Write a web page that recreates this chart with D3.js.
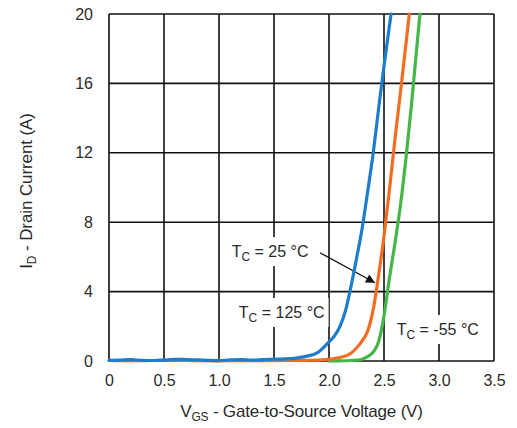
<!DOCTYPE html>
<html>
<head>
<meta charset="utf-8">
<script src="https://cdn.jsdelivr.net/npm/d3@7"></script>
<style>
  html, body { margin: 0; padding: 0; background: #fff; }
  svg { display: block; font-family: "Liberation Sans", Arial, sans-serif; }
</style>
</head>
<body>
<svg id="chart" width="517" height="428"></svg>
<script>
// ---- Data ----
const xTicks = [0, 0.5, 1.0, 1.5, 2.0, 2.5, 3.0, 3.5];
const xTickLabels = ["0", "0.5", "1.0", "1.5", "2.0", "2.5", "3.0", "3.5"];
const yTicks = [0, 4, 8, 12, 16, 20];
const yTickLabels = ["0", "4", "8", "12", "16", "20"];

// T_C = 125 °C (blue)
const vgs125 = [0, 0.1, 0.2, 0.3, 0.4, 0.5, 0.6, 0.7, 0.8, 0.9, 1.0, 1.1, 1.2, 1.3, 1.4, 1.5, 1.6, 1.7, 1.8, 1.9, 2.0, 2.05, 2.1, 2.15, 2.2, 2.25, 2.3, 2.35, 2.4, 2.45, 2.5, 2.564];
const id125  = [0.03, 0.05, 0.08, 0.04, 0.03, 0.05, 0.1, 0.08, 0.06, 0.04, 0.02, 0.06, 0.08, 0.05, 0.08, 0.1, 0.12, 0.17, 0.28, 0.5, 1.1, 1.45, 2.0, 2.9, 4.3, 5.9, 7.6, 9.7, 11.9, 14.5, 17.0, 20];

// T_C = 25 °C (orange)
const vgs25 = [0, 0.2, 0.4, 0.6, 0.8, 1.0, 1.2, 1.4, 1.6, 1.8, 1.9, 2.0, 2.1, 2.2, 2.25, 2.3, 2.35, 2.4, 2.45, 2.5, 2.55, 2.6, 2.65, 2.7, 2.73];
const id25  = [0.04, 0.02, 0.03, 0.05, 0.02, 0.01, 0.02, 0.02, 0.03, 0.04, 0.05, 0.1, 0.2, 0.45, 0.75, 1.15, 1.7, 2.9, 4.9, 7.2, 9.9, 12.8, 15.5, 18.3, 20];

// T_C = -55 °C (green)
const vgsM55 = [2.0, 2.1, 2.2, 2.3, 2.35, 2.4, 2.45, 2.5, 2.55, 2.6, 2.65, 2.7, 2.75, 2.8, 2.827];
const idM55  = [0.0, 0.01, 0.03, 0.1, 0.25, 0.5, 1.1, 2.6, 4.8, 6.8, 9.0, 11.7, 14.8, 18.2, 20];

const series = [
  { name: "125", v: vgs125, i: id125, color: "#1b7dcc" },
  { name: "25",  v: vgs25,  i: id25,  color: "#f26c22" },
  { name: "-55", v: vgsM55, i: idM55, color: "#45b749" }
];
// draw order: green, orange, blue on top
const drawOrder = [2, 1, 0];

// annotation anchors in data units
const labels = [
  { main: "T", sub: "C", rest: " = 25 °C",  v: 1.115, a: 5.99 },
  { main: "T", sub: "C", rest: " = 125 °C", v: 1.18,  a: 2.48 },
  { main: "T", sub: "C", rest: " = -55 °C", v: 2.615, a: 1.50 }
];
const arrowFrom = [1.918, 6.24];
const arrowTo   = [2.418, 4.51];

// ---- Layout ----
const svg = d3.select("#chart");
const W = 517, H = 428;
const margin = { left: 109, top: 14, right: 23, bottom: 67 };
const iw = W - margin.left - margin.right;
const ih = H - margin.top - margin.bottom;

const x = d3.scaleLinear().domain([0, 3.5]).range([margin.left, margin.left + iw]);
const y = d3.scaleLinear().domain([0, 20]).range([margin.top + ih, margin.top]);

const textColor = "#2a2a2a";

// grid
const grid = svg.append("g");
grid.selectAll("line.vx").data(xTicks).join("line")
  .attr("x1", d => x(d)).attr("x2", d => x(d))
  .attr("y1", y(0)).attr("y2", y(20))
  .attr("stroke", "#111").attr("stroke-width", 1.6);
grid.selectAll("line.hy").data(yTicks).join("line")
  .attr("x1", x(0)).attr("x2", x(3.5))
  .attr("y1", d => y(d)).attr("y2", d => y(d))
  .attr("stroke", "#111").attr("stroke-width", 1.6);

// axes (labels only)
const xAxis = d3.axisBottom(x).tickValues(xTicks).tickFormat((d, k) => xTickLabels[k]).tickSize(0).tickPadding(14);
const gx = svg.append("g").attr("transform", `translate(0,${y(0)})`).call(xAxis);
gx.select(".domain").remove();
gx.selectAll("text").attr("font-size", 16).attr("fill", textColor).attr("font-family", "Liberation Sans, Arial, sans-serif");

const yAxis = d3.axisLeft(y).tickValues(yTicks).tickFormat((d, k) => yTickLabels[k]).tickSize(0).tickPadding(16);
const gy = svg.append("g").attr("transform", `translate(${x(0)},0)`).call(yAxis);
gy.select(".domain").remove();
gy.selectAll("text").attr("font-size", 16).attr("fill", textColor).attr("font-family", "Liberation Sans, Arial, sans-serif");

// label boxes + labels
const lg = svg.append("g");
labels.forEach(l => {
  const t = lg.append("text")
    .attr("x", x(l.v)).attr("y", y(l.a))
    .attr("font-size", 16).attr("fill", textColor);
  t.append("tspan").text(l.main);
  t.append("tspan").attr("dy", 4).attr("font-size", 12).text(l.sub);
  t.append("tspan").attr("dy", -4).text(l.rest);
  const bb = t.node().getBBox();
  lg.insert("rect", () => t.node())
    .attr("x", bb.x - 4).attr("y", y(l.a) - 20)
    .attr("width", bb.width + 8).attr("height", 29)
    .attr("fill", "#fff");
});

// arrow
const defs = svg.append("defs");
defs.append("marker").attr("id", "ah")
  .attr("viewBox", "0 0 10 10").attr("refX", 10).attr("refY", 5)
  .attr("markerWidth", 14).attr("markerHeight", 9).attr("markerUnits", "userSpaceOnUse")
  .attr("orient", "auto")
  .append("path").attr("d", "M0,0 L10,5 L0,10 Z").attr("fill", "#111");
svg.append("line")
  .attr("x1", x(arrowFrom[0])).attr("y1", y(arrowFrom[1]))
  .attr("x2", x(arrowTo[0])).attr("y2", y(arrowTo[1]))
  .attr("stroke", "#111").attr("stroke-width", 1.3)
  .attr("marker-end", "url(#ah)");

// curves
const line = d3.line().x(d => x(d[0])).y(d => y(d[1])).curve(d3.curveMonotoneX);
drawOrder.forEach(k => {
  const s = series[k];
  const pts = s.v.map((v, j) => [v, s.i[j]]);
  svg.append("path").datum(pts)
    .attr("d", line)
    .attr("fill", "none")
    .attr("stroke", s.color)
    .attr("stroke-width", 3.2)
    .attr("stroke-linejoin", "round")
    .attr("stroke-linecap", "round");
});

// axis titles
const xt = svg.append("text")
  .attr("x", x(1.75)).attr("y", 417)
  .attr("text-anchor", "middle").attr("font-size", 17).attr("fill", textColor)
  .attr("letter-spacing", -0.2);
xt.append("tspan").text("V");
xt.append("tspan").attr("dy", 4).attr("font-size", 12).text("GS");
xt.append("tspan").attr("dy", -4).text(" - Gate-to-Source Voltage (V)");

const yt = svg.append("text")
  .attr("transform", `translate(32,191) rotate(-90)`)
  .attr("text-anchor", "middle").attr("font-size", 17).attr("fill", textColor)
  .attr("letter-spacing", -0.1);
yt.append("tspan").text("I");
yt.append("tspan").attr("dy", 4).attr("font-size", 12).text("D");
yt.append("tspan").attr("dy", -4).text(" - Drain Current (A)");
</script>
</body>
</html>
